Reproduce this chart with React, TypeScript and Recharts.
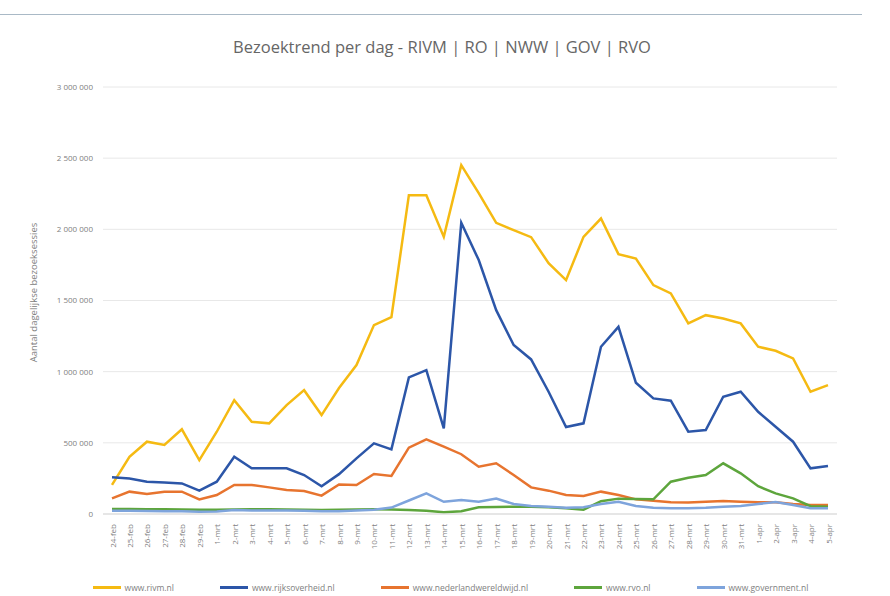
import { LineChart, Line, XAxis, YAxis, CartesianGrid, Legend } from 'recharts'

const dates = [
  '24-feb', '25-feb', '26-feb', '27-feb', '28-feb', '29-feb',
  '1-mrt', '2-mrt', '3-mrt', '4-mrt', '5-mrt', '6-mrt', '7-mrt', '8-mrt', '9-mrt', '10-mrt',
  '11-mrt', '12-mrt', '13-mrt', '14-mrt', '15-mrt', '16-mrt', '17-mrt', '18-mrt', '19-mrt', '20-mrt',
  '21-mrt', '22-mrt', '23-mrt', '24-mrt', '25-mrt', '26-mrt', '27-mrt', '28-mrt', '29-mrt', '30-mrt', '31-mrt',
  '1-apr', '2-apr', '3-apr', '4-apr', '5-apr',
]

// values in thousands of sessions
const rivm = [204, 402, 508, 485, 595, 379, 578, 800, 648, 637, 765, 870, 695, 885, 1046, 1327, 1383, 2240, 2240, 1947, 2451, 2254, 2046, 1994, 1945, 1762, 1643, 1947, 2076, 1826, 1795, 1608, 1550, 1339, 1397, 1374, 1339, 1175, 1147, 1093, 859, 906]
const rijksoverheid = [258, 250, 227, 222, 215, 164, 227, 402, 321, 321, 321, 274, 195, 280, 391, 496, 454, 960, 1011, 602, 2046, 1784, 1432, 1187, 1086, 859, 611, 637, 1175, 1315, 922, 812, 796, 578, 590, 824, 859, 718, 613, 508, 321, 337]
const nederlandwereldwijd = [110, 157, 140, 157, 157, 103, 133, 204, 204, 187, 169, 162, 129, 208, 204, 281, 267, 466, 525, 473, 420, 332, 356, 274, 187, 164, 133, 126, 157, 133, 103, 93, 82, 80, 86, 91, 86, 82, 82, 70, 63, 63]
const rvo = [35, 35, 34, 33, 32, 30, 30, 32, 33, 33, 32, 30, 28, 30, 32, 33, 32, 28, 22, 12, 20, 48, 50, 51, 51, 47, 40, 30, 90, 108, 105, 103, 227, 255, 274, 356, 286, 195, 145, 110, 55, 51]
const government = [22, 22, 21, 20, 20, 15, 18, 28, 25, 25, 24, 22, 20, 20, 25, 30, 45, 95, 145, 86, 99, 86, 108, 70, 56, 51, 44, 47, 70, 86, 56, 44, 40, 40, 44, 51, 56, 70, 84, 63, 40, 40]

const yTicks = [0, 500000, 1000000, 1500000, 2000000, 2500000, 3000000]

const data = dates.map((date, i) => ({
  date,
  rivm: rivm[i] * 1000,
  rijksoverheid: rijksoverheid[i] * 1000,
  nederlandwereldwijd: nederlandwereldwijd[i] * 1000,
  rvo: rvo[i] * 1000,
  government: government[i] * 1000,
}))

const series = [
  { key: 'rivm', name: 'www.rivm.nl', color: '#F5BA12' },
  { key: 'rijksoverheid', name: 'www.rijksoverheid.nl', color: '#2C56A8' },
  { key: 'nederlandwereldwijd', name: 'www.nederlandwereldwijd.nl', color: '#E7742F' },
  { key: 'rvo', name: 'www.rvo.nl', color: '#5DA53C' },
  { key: 'government', name: 'www.government.nl', color: '#7EA4DC' },
]

const font = '"Open Sans", sans-serif'
const fmt = (v: number) => String(v).replace(/\B(?=(\d{3})+(?!\d))/g, ' ')

const DateTick = (props: any) => {
  const { x, y, payload } = props
  return (
    <text x={x} y={y} transform={`rotate(-90, ${x}, ${y})`} textAnchor="end" dominantBaseline="central"
      fontSize={8} fill="#808080" fontFamily={font}>
      {payload.value}
    </text>
  )
}

const YTitle = (props: any) => {
  const { viewBox } = props
  const cy = viewBox.y + viewBox.height / 2 - 8
  return (
    <text x={33} y={cy} transform={`rotate(-90, 33, ${cy})`} textAnchor="middle" dominantBaseline="central"
      fontSize={9.5} fill="#808080" fontFamily={font}>
      Aantal dagelijkse bezoeksessies
    </text>
  )
}

const LegendBox = () => (
  <div style={{ display: 'flex', justifyContent: 'center', gap: 46, paddingTop: 22, paddingLeft: 64,
    fontFamily: font, fontSize: 8.5, color: '#808080' }}>
    {series.map(s => (
      <div key={s.key} style={{ display: 'flex', alignItems: 'center' }}>
        <span style={{ display: 'inline-block', width: 28, height: 2.5, background: s.color, marginRight: 4 }} />
        {s.name}
      </div>
    ))}
  </div>
)

export default function App() {
  return (
    <div style={{ position: 'absolute', left: 0, top: 0, width: 890, height: 596, background: '#fff' }}>
      <div style={{ position: 'absolute', left: 0, top: 14, width: 862, height: 1, background: '#a9b9c6' }} />
      <div style={{ position: 'absolute', left: 0, top: 35, width: 884, textAlign: 'center', fontFamily: font, fontSize: 16.5, color: '#666666' }}>
        Bezoektrend per dag - RIVM | RO | NWW | GOV | RVO
      </div>
      <LineChart width={890} height={596} data={data} margin={{ top: 87, right: 53, left: 0, bottom: 0 }}>
        <CartesianGrid vertical={false} stroke="#e8e8e8" />
        <XAxis dataKey="date" interval={0} tick={<DateTick />} height={46} padding={{ left: 9, right: 9 }}
          axisLine={{ stroke: '#d9d9d9' }} tickLine={false} tickMargin={4} />
        <YAxis width={103} domain={[0, 3000000]} ticks={yTicks} tickFormatter={fmt} axisLine={false} tickLine={false}
          tickSize={6} tickMargin={4} tick={{ fontSize: 8, fill: '#808080', fontFamily: font }}
          label={<YTitle />} />
        <Legend verticalAlign="bottom" height={36} content={<LegendBox />} />
        {series.map(s => (
          <Line key={s.key} type="linear" dataKey={s.key} name={s.name} stroke={s.color} strokeWidth={2.5}
            dot={false} isAnimationActive={false} />
        ))}
      </LineChart>
    </div>
  )
}
